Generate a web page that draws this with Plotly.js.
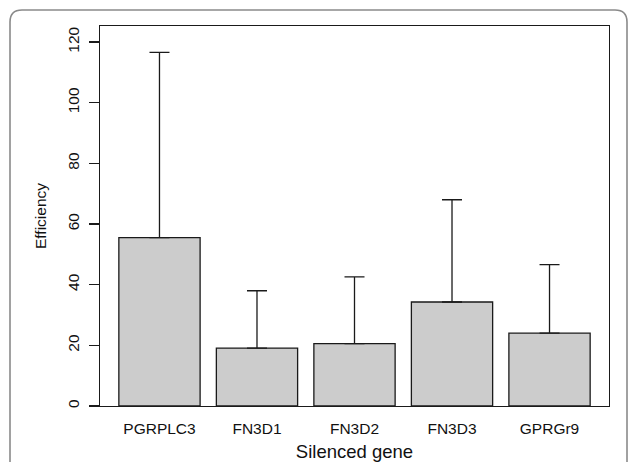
<!DOCTYPE html>
<html>
<head>
<meta charset="utf-8">
<script src="https://cdn.plot.ly/plotly-3.0.1.min.js"></script>
<style>
  html, body { margin: 0; padding: 0; background: #ffffff; }
  #chart { width: 629px; height: 462px; }
</style>
</head>
<body>
<div id="chart"></div>
<script>
// Data
const genes = ["PGRPLC3", "FN3D1", "FN3D2", "FN3D3", "GPRGr9"];
const efficiency = [55.5, 19.1, 20.6, 34.3, 24.0];
const errorUp = [61.1, 18.9, 22.0, 33.7, 22.6];
const errorDown = [0, 0, 0, 0, 0];
const yTicks = [0, 20, 40, 60, 80, 100, 120];

const FONT = '"Liberation Sans", Arial, Helvetica, sans-serif';

const trace = {
  type: 'bar',
  x: genes,
  y: efficiency,
  marker: { color: '#cccccc', line: { color: '#1a1a1a', width: 1.3 } },
  error_y: {
    type: 'data',
    symmetric: false,
    array: errorUp,
    arrayminus: errorDown,
    color: '#1a1a1a',
    thickness: 1.3,
    width: 10
  },
  hoverinfo: 'none'
};

// plot area: x 100..609, y 26..406 (px)
const L = 100, R = 609, T = 26, B = 406;
const px = v => (v - L) / (R - L);
const py = v => (B - v) / (B - T);
const r = 12;
const bx0 = 10, by0 = 10, bx1 = 627, by1 = 480;
const borderPath =
  'M ' + px(bx0) + ',' + py(by1) +
  ' L ' + px(bx0) + ',' + py(by0 + r) +
  ' Q ' + px(bx0) + ',' + py(by0) + ' ' + px(bx0 + r) + ',' + py(by0) +
  ' L ' + px(bx1 - r) + ',' + py(by0) +
  ' Q ' + px(bx1) + ',' + py(by0) + ' ' + px(bx1) + ',' + py(by0 + r) +
  ' L ' + px(bx1) + ',' + py(by1);

const layout = {
  width: 629,
  height: 462,
  margin: { l: L, r: 629 - R, t: T, b: 462 - B, pad: 0 },
  paper_bgcolor: '#ffffff',
  plot_bgcolor: '#ffffff',
  font: { family: FONT, color: '#000000', size: 14 },
  showlegend: false,
  bargap: 1 - 1 / 1.2,
  xaxis: {
    type: 'category',
    range: [-0.61, 4.61],
    showline: true,
    linecolor: '#1a1a1a',
    linewidth: 1.3,
    mirror: true,
    ticks: '',
    ticklabelstandoff: 8,
    showgrid: false,
    zeroline: false,
    tickfont: { family: FONT, size: 15.5, color: '#111' },
    title: { text: 'Silenced gene', font: { family: FONT, size: 18.5, color: '#111' }, standoff: 17 }
  },
  yaxis: {
    range: [0, 125.3],
    tickmode: 'array',
    tickvals: yTicks,
    ticktext: yTicks.map(String),
    tickangle: -90,
    ticks: 'outside',
    ticklen: 10,
    tickwidth: 1.3,
    tickcolor: '#1a1a1a',
    ticklabelstandoff: 4,
    showline: true,
    linecolor: '#1a1a1a',
    linewidth: 1.3,
    mirror: true,
    showgrid: false,
    zeroline: false,
    tickfont: { family: FONT, size: 15.5, color: '#111' },
    title: { text: 'Efficiency', font: { family: FONT, size: 15.5, color: '#111' }, standoff: 14 }
  },
  shapes: [{
    type: 'path',
    xref: 'paper',
    yref: 'paper',
    path: borderPath,
    line: { color: '#8a8a8a', width: 1.6 },
    layer: 'below'
  }]
};

Plotly.newPlot('chart', [trace], layout, { displayModeBar: false, staticPlot: true });
</script>
</body>
</html>
